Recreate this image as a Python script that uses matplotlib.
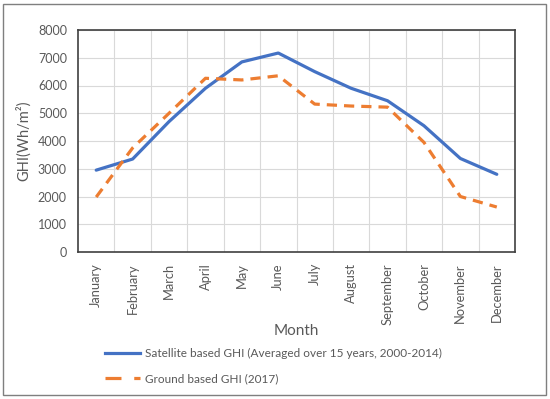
import matplotlib.pyplot as plt
from matplotlib.lines import Line2D
from matplotlib.patches import Rectangle

plt.rcParams['font.family'] = ['Lato', 'DejaVu Sans']

months = ['January', 'February', 'March', 'April', 'May', 'June', 'July',
          'August', 'September', 'October', 'November', 'December']
satellite = [2950, 3350, 4700, 5900, 6850, 7170, 6500, 5900, 5450, 4550, 3370, 2800]
ground = [1980, 3750, 5000, 6260, 6200, 6350, 5330, 5260, 5220, 3950, 2000, 1620]
yticks = [0, 1000, 2000, 3000, 4000, 5000, 6000, 7000, 8000]

text_color = '#595959'
grid_color = '#d9d9d9'

fig = plt.figure(figsize=(5.5, 3.99), dpi=100)
ax = fig.add_axes([78 / 550, 1 - 252 / 399, 437 / 550, 222 / 399])

x = list(range(len(months)))
ax.plot(x, satellite, color='#4472C4', linewidth=2.3, solid_capstyle='round')
ax.plot(x, ground, color='#ED7D31', linewidth=2.3, linestyle=(0, (3.2, 2.2)))

ax.set_xlim(-0.5, len(months) - 0.5)
ax.set_ylim(0, 8000)
ax.set_yticks(yticks)
ax.set_yticklabels([str(v) for v in yticks])
ax.set_xticks(x)
ax.set_xticklabels(months, rotation=90, fontsize=9.3)
ax.set_xticks([i + 0.5 for i in x[:-1]], minor=True)

ax.grid(True, axis='y', color=grid_color, linewidth=0.8)
ax.grid(True, axis='x', which='minor', color=grid_color, linewidth=0.8)
ax.set_axisbelow(True)
ax.tick_params(axis='both', which='both', length=0, colors=text_color)
ax.tick_params(axis='y', pad=8, labelsize=9)
ax.tick_params(axis='x', pad=8)
for s in ax.spines.values():
    s.set_color('#404040')
    s.set_linewidth(1.2)

ax.set_ylabel('GHI(Wh/m²)', color=text_color, fontsize=10.5, labelpad=5)
ax.set_xlabel('Month', color=text_color, fontsize=11)
ax.xaxis.set_label_coords(0.5, -(331 - 252) / 222, transform=ax.transAxes)
ax.xaxis.label.set_verticalalignment('center')

handles = [Line2D([], [], color='#4472C4', linewidth=2.3),
           Line2D([], [], color='#ED7D31', linewidth=2.3, linestyle=(0, (5, 4)))]
labels = ['Satellite based GHI (Averaged over 15 years, 2000-2014)',
          'Ground based GHI (2017)']
leg = fig.legend(handles, labels, loc='upper left', bbox_to_anchor=(100 / 550, 1 - 343 / 399),
                 frameon=False, fontsize=8.5, handlelength=3.0, handletextpad=0.4,
                 labelspacing=1.2, borderaxespad=0)
for t in leg.get_texts():
    t.set_color(text_color)

fig.patches.append(Rectangle((3 / 550, 4 / 399), 543 / 550, 391 / 399, transform=fig.transFigure,
                             fill=False, edgecolor='#7f7f7f', linewidth=1.0))

fig.savefig('out.png', dpi=100)
